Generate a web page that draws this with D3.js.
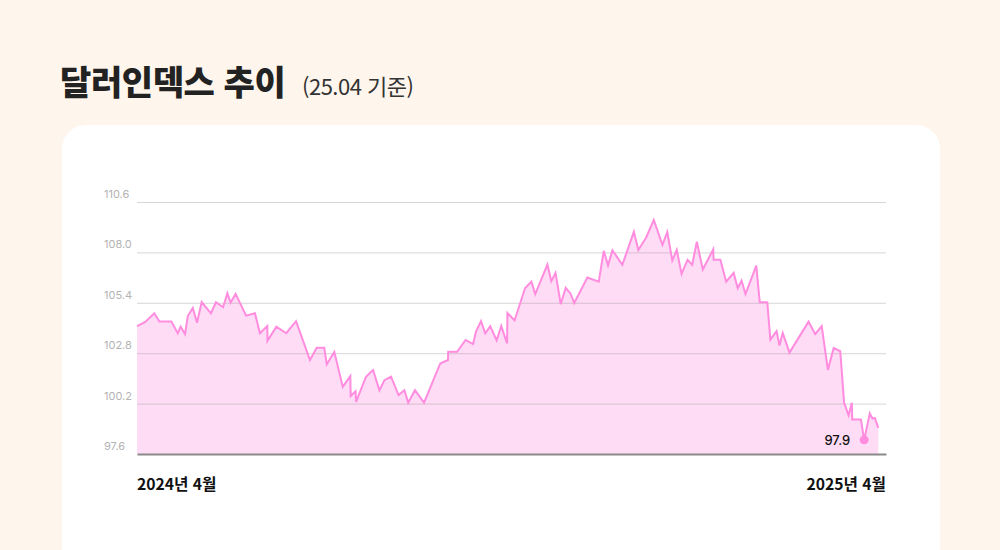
<!DOCTYPE html>
<html lang="ko">
<head>
<meta charset="utf-8">
<script src="https://cdn.jsdelivr.net/npm/d3@7.9.0/dist/d3.min.js"></script>
<style>
  html, body { margin: 0; padding: 0; background: #fef5ec; }
  svg { display: block; font-family: 'Noto Sans CJK KR', 'Noto Sans', sans-serif; }
</style>
</head>
<body>
<div id="chart"></div>
<script>
// day offsets from 2024-04 start and index values
const days = [
  0, 4.3, 9.0, 11.6, 17.8, 21.1, 22.6, 24.9, 26.3, 28.9, 31.1, 33.5, 38.3, 40.9, 44.6, 46.8,
  48.5, 51.1, 56.5, 61.1, 63.7, 67.5, 67.6, 72.2, 77.3, 82.4, 89.6, 93.1, 97.0, 98.3, 102.2,
  106.6, 110.5, 110.7, 113.2, 113.5, 118.6, 122.3, 125.6, 128.2, 131.6, 135.5, 138.5, 140.5,
  144.0, 148.7, 157.1, 161.1, 161.2, 165.8, 170.2, 174.1, 175.6, 178.2, 180.4, 183.0, 186.3,
  188.7, 191.7, 191.9, 195.6, 201.0, 204.3, 206.3, 212.6, 214.6, 216.8, 219.5, 222.1, 224.6,
  226.5, 233.3, 239.2, 241.8, 244.0, 246.3, 251.4, 257.4, 259.7, 263.7, 267.7, 272.2, 274.7,
  277.3, 279.6, 282.1, 285.2, 287.6, 290.0, 293.1, 298.5, 298.7, 302.2, 305.2, 309.1, 311.2,
  313.2, 315.2, 320.8, 322.6, 326.5, 328.1, 331.3, 332.8, 334.5, 338.0, 347.9, 351.3, 354.7,
  357.9, 360.9, 364.3, 366.3, 368.6, 370.3, 370.5, 375.0, 376.7, 379.6, 381.0, 382.2, 384.0
];
const values = [
  104.20, 104.41, 104.86, 104.43, 104.43, 103.83, 104.17, 103.79, 104.72, 105.13, 104.37,
  105.44, 104.86, 105.43, 105.17, 105.89, 105.41, 105.86, 104.74, 104.86, 103.83, 104.20,
  103.44, 104.17, 103.83, 104.45, 102.45, 103.08, 103.08, 102.22, 102.87, 101.06, 101.62,
  100.60, 100.84, 100.29, 101.58, 101.93, 100.89, 101.41, 101.59, 100.64, 100.89, 100.25,
  100.89, 100.25, 102.27, 102.45, 102.87, 102.87, 103.48, 103.27, 103.91, 104.45, 103.82,
  104.19, 103.46, 104.20, 103.31, 104.88, 104.49, 106.15, 106.49, 105.85, 107.37, 106.52,
  106.94, 105.33, 106.17, 105.87, 105.39, 106.70, 106.49, 108.08, 107.33, 108.11, 107.36,
  109.06, 108.12, 108.76, 109.67, 108.39, 109.05, 107.58, 108.13, 106.89, 107.62, 107.36,
  108.55, 107.12, 108.16, 107.62, 107.62, 106.49, 106.94, 106.15, 106.54, 105.85, 107.32,
  105.43, 105.43, 103.50, 103.94, 103.20, 103.84, 102.83, 104.43, 103.78, 104.20, 101.94,
  103.07, 102.90, 100.25, 99.60, 100.24, 99.38, 99.38, 98.33, 99.69, 99.43, 99.46, 98.95
];
const yTicks = [97.6, 100.2, 102.8, 105.4, 108.0, 110.6];
const xLabels = ['2024년 4월', '2025년 4월'];
const totalDays = 388;
const lowIndex = 117;
const lowLabel = '97.9';

const title = '달러인덱스 추이';
const subtitle = '(25.04 기준)';

const width = 1000;
const height = 550;
const margin = { top: 202, right: 114, bottom: 96, left: 137 };

const svg = d3.select('#chart')
  .append('svg')
  .attr('width', width)
  .attr('height', height);

// title
svg.append('text')
  .attr('x', 60)
  .attr('y', 95)
  .attr('font-size', 34)
  .attr('font-weight', 900)
  .attr('fill', '#222')
  .attr('letter-spacing', -0.4)
  .text(title);

svg.append('text')
  .attr('x', 302)
  .attr('y', 95)
  .attr('font-size', 22)
  .attr('fill', '#333')
  .attr('letter-spacing', -0.5)
  .text(subtitle);

// card
svg.append('rect')
  .attr('x', 62)
  .attr('y', 125)
  .attr('width', 878)
  .attr('height', 480)
  .attr('rx', 24)
  .attr('fill', '#fff');

const data = days.map((d, i) => ({ day: d, value: values[i] }));

const x = d3.scaleLinear()
  .domain([0, totalDays])
  .range([margin.left, width - margin.right]);

const y = d3.scaleLinear()
  .domain([d3.min(yTicks), d3.max(yTicks)])
  .range([height - margin.bottom, margin.top]);

// area fill
const area = d3.area()
  .x(d => x(d.day))
  .y0(y(yTicks[0]))
  .y1(d => y(d.value));

svg.append('path')
  .datum(data)
  .attr('d', area)
  .attr('fill', '#ffdcf5');

// gridlines on top of the fill
const grid = svg.append('g')
  .attr('transform', `translate(${margin.left},0)`)
  .call(d3.axisLeft(y).tickValues(yTicks.slice(1)).tickSize(-(width - margin.left - margin.right)).tickFormat(''));
grid.select('.domain').remove();
grid.selectAll('line')
  .attr('stroke', '#8c8c8c')
  .attr('stroke-opacity', 0.35);

// y tick labels
svg.append('g')
  .selectAll('text')
  .data(yTicks)
  .join('text')
  .attr('x', 104)
  .attr('y', d => y(d) - 4)
  .attr('font-size', 11)
  .attr('fill', '#b3b3b3')
  .attr('font-family', 'Inter, sans-serif')
  .text(d => d.toFixed(1));

// line
const line = d3.line()
  .x(d => x(d.day))
  .y(d => y(d.value));

svg.append('path')
  .datum(data)
  .attr('d', line)
  .attr('fill', 'none')
  .attr('stroke', '#ff8cdf')
  .attr('stroke-width', 2)
  .attr('stroke-linejoin', 'miter');

// baseline axis
const xAxis = svg.append('g')
  .attr('transform', `translate(0,${y(yTicks[0])})`)
  .call(d3.axisBottom(x).tickValues([]).tickSizeOuter(0));
xAxis.select('.domain')
  .attr('stroke', '#8a8a8a')
  .attr('stroke-width', 2);

// x labels at both ends
svg.append('text')
  .attr('x', x(0))
  .attr('y', 490)
  .attr('font-size', 15.7)
  .attr('font-weight', 700)
  .attr('fill', '#111')
  .text(xLabels[0]);

svg.append('text')
  .attr('x', x(totalDays))
  .attr('y', 490)
  .attr('text-anchor', 'end')
  .attr('font-size', 15.7)
  .attr('font-weight', 700)
  .attr('fill', '#111')
  .text(xLabels[1]);

// low point marker
const low = data[lowIndex];
svg.append('circle')
  .attr('cx', x(low.day))
  .attr('cy', y(low.value))
  .attr('r', 4.5)
  .attr('fill', '#ff8cdf');

svg.append('text')
  .attr('x', x(low.day) - 14)
  .attr('y', y(low.value) + 5)
  .attr('text-anchor', 'end')
  .attr('font-size', 13)
  .attr('font-weight', 500)
  .attr('fill', '#111')
  .attr('font-family', 'Inter, sans-serif')
  .text(lowLabel);
</script>
</body>
</html>
